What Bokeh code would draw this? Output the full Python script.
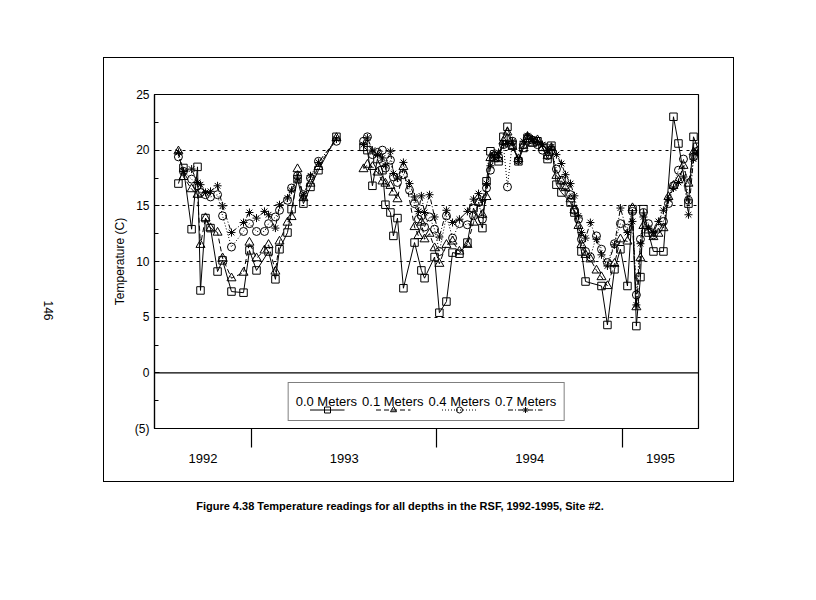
import math
import numpy as np
from bokeh.plotting import figure
from bokeh.models import (Range1d, FixedTicker, Span, Legend, LegendItem,
                          LinearAxis)
from bokeh.embed import file_html
from bokeh.resources import INLINE

# ---------------- data (decimal years, temperature in C) ----------------
dates_a = [1992.606, 1992.633, 1992.677, 1992.709, 1992.725, 1992.752, 1992.779,
           1992.817, 1992.844, 1992.892, 1992.957, 1992.989, 1993.027, 1993.070,
           1993.092, 1993.129, 1993.151, 1993.194, 1993.216, 1993.248, 1993.280,
           1993.318, 1993.361, 1993.458]
t00_a = [17.0, 18.4, 12.9, 18.5, 7.4, 13.9, 13.0, 9.1, 10.1, 7.3, 7.2, 11.0,
         9.2, None, 10.9, 8.4, 11.1, 12.6, 14.7, 17.4, 15.2, 16.7, 18.2, 21.2]
t01_a = [19.9, 17.6, 16.5, 16.0, 11.5, 13.9, 13.0, 12.6, 10.3, 8.5, 9.0, 11.7,
         10.3, 11.0, 11.5, 9.1, 11.8, 13.5, 14.0, 18.3, 15.7, 17.0, 18.5, 21.1]
t04_a = [19.4, 18.1, 17.4, 16.8, 16.2, 16.0, 15.8, 16.0, 14.1, 11.3, 12.7, 13.4,
         12.7, 12.7, 13.4, 14.0, 14.6, 15.5, 16.6, 17.7, 16.0, 17.5, 19.0, 20.8]
t07_a = [19.8, 18.1, 18.3, 17.1, 16.9, 16.2, 16.3, 16.8, 15.0, 12.6, 13.5, 14.4,
         13.9, 14.5, 14.2, 13.0, 15.1, 15.7, 16.4, 17.5, 15.9, 17.7, 18.9, 21.0]

dates_b = [1993.604, 1993.625, 1993.652, 1993.679, 1993.706, 1993.722, 1993.749,
           1993.765, 1993.787, 1993.819, 1993.852, 1993.879, 1993.900, 1993.916,
           1993.933, 1993.960, 1993.987, 1994.013, 1994.051, 1994.084, 1994.121,
           1994.164, 1994.197, 1994.224, 1994.245, 1994.267, 1994.288, 1994.310,
           1994.332, 1994.358, 1994.380, 1994.407, 1994.439, 1994.466, 1994.488,
           1994.515, 1994.542, 1994.569, 1994.596, 1994.617, 1994.644, 1994.671,
           1994.693, 1994.720, 1994.741, 1994.763, 1994.779, 1994.801, 1994.827,
           1994.860, 1994.887, 1994.919, 1994.957, 1994.989, 1995.027, 1995.054,
           1995.075, 1995.097, 1995.113, 1995.140, 1995.167, 1995.194, 1995.221,
           1995.248, 1995.275, 1995.302, 1995.329, 1995.356, 1995.383, 1995.404]
t00_b = [20.3, 20.0, 16.8, 19.2, 18.2, 15.1, 14.4, 12.3, 13.9, 7.6,
         None, 11.7, None, 9.2, 8.5, None, 10.4, 5.4, 6.4, 10.8,
         10.7, 11.7, 14.8, None, 13.0, 17.2, 19.9, 19.3, 19.0, 21.2,
         22.1, 20.5, 19.0, 20.2, 21.1, 20.7, 20.8, 20.3, 19.2, 20.4,
         16.9, 16.2, None, 15.3, 14.4, None, 10.9, 8.2, None, None,
         7.8, 4.3, 9.3, 11.1, 7.8, 14.7, 4.2, 8.6, 14.7, 12.6,
         10.9, None, 10.9, None, 23.0, 20.6, None, 15.2, 21.2, 20.3]
t01_b = [18.3, 18.7, 18.5, 18.0, 17.2, 17.0, 16.8, 16.2, 15.6, 18.5,
         None, 13.1, 12.3, 13.5, 12.0, 12.5, 11.2, 9.8, 11.5, 11.8,
         10.9, 11.5, 13.5, 15.3, 14.2, 15.8, 19.3, 19.6, 19.2, 20.8,
         21.6, 20.3, 19.2, 20.4, 21.2, 20.6, 20.9, 20.2, 19.5, 20.2,
         17.7, 17.2, 16.6, 15.6, 14.6, 13.2, 11.5, 10.6, 10.2, 9.2,
         8.6, 7.8, 9.8, 12.0, 11.8, 14.8, 5.9, 10.3, 13.2, 12.8,
         12.2, 12.5, 13.0, 15.8, 16.8, 17.3, 18.6, 17.0, 19.8, 19.9]
t04_b = [20.8, 21.2, 19.6, 19.8, 20.0, 18.4, 19.1, 17.6, 17.1, 17.8,
         16.4, 15.2, 13.8, 14.1, 13.1, 14.0, 12.9, 10.9, 14.1, 12.1,
         13.4, 13.3, 14.1, 15.3, 13.8, 16.6, 18.2, 19.5, 19.4, 20.5,
         16.7, 20.8, 19.1, 20.5, 21.0, 20.9, 20.5, 20.0, 19.5, 20.0,
         18.3, 17.3, 16.8, 16.0, 14.6, 13.8, 12.0, 10.9, 10.4, 12.3,
         11.1, 9.9, 11.6, 13.4, 13.0, 14.5, 7.0, 12.0, 14.4, 13.4,
         12.4, 13.0, 13.6, 15.2, 16.8, 18.2, 19.2, 15.5, 19.4, 19.9]
t07_b = [20.5, 21.1, 20.0, 19.6, 19.3, 18.6, 19.9, 17.9, 17.5, 18.9,
         17.0, 15.8, 14.5, 15.9, 14.4, 16.0, 14.0, 12.2, 14.6, 13.5,
         13.8, 14.5, 15.6, 16.1, 15.5, 17.0, 18.6, 19.5, 19.8, 20.5,
         20.6, 20.8, 19.0, 20.8, 21.3, 21.0, 20.8, 20.5, 20.0, 20.3,
         19.6, 18.8, 17.8, 17.0, 15.9, 14.1, 12.6, 12.1, 13.5, 12.0,
         10.6, 9.6, 11.5, 14.8, 12.6, 13.6, 6.1, 11.6, 14.0, 13.0,
         12.6, 13.6, 14.6, 15.6, 16.6, 17.1, 17.6, 14.2, 19.2, 19.8]

depth_labels = ["0.0 Meters", "0.1 Meters", "0.4 Meters", "0.7 Meters"]
year_labels = ["1992", "1993", "1994", "1995"]
y_ticks = [-5, 0, 5, 10, 15, 20, 25]
y_minor = [-2.5, 2.5, 7.5, 12.5, 17.5, 22.5]
grid_levels = [5, 10, 15, 20]
caption = "Figure 4.38  Temperature readings for all depths in the RSF, 1992-1995, Site #2."
page_number = "146"

# ---------------- layout constants (canvas pixels) ----------------
W, H = 800, 584
FL, FR, FT, FB = 154, 698, 94, 428          # frame edges
X0, X1 = 1992.477, 1995.410
Y0, Y1 = -5, 25
BOX_L, BOX_R, BOX_T, BOX_B = 103, 733, 57, 481   # outer frame of the figure
CAPTION_CX = 401                                 # caption centre (px)
PAGE_NO_CY = 320                                 # page-number centre (px)
FONT = "Liberation Sans"


def px_to_x(px):
    return X0 + (px - FL) / (FR - FL) * (X1 - X0)


def py_to_y(py):
    return Y1 - (py - FT) / (FB - FT) * (Y1 - Y0)


def build(da, va, db, vb):
    xs, ys = [], []
    for d, v in zip(da, va):
        if v is not None:
            xs.append(d); ys.append(v)
    xs.append(np.nan); ys.append(np.nan)
    for d, v in zip(db, vb):
        if v is not None:
            xs.append(d); ys.append(v)
    return np.array(xs, dtype=float), np.array(ys, dtype=float)


bw, bh = BOX_R - BOX_L, BOX_B - BOX_T
grad = "linear-gradient(#000,#000)"
p = figure(width=W, height=H, output_backend="svg", toolbar_location=None,
           x_range=Range1d(X0, X1), y_range=Range1d(Y0, Y1),
           min_border_left=FL, min_border_right=W - FR,
           min_border_top=FT, min_border_bottom=H - FB,
           styles={
               "background-color": "white",
               "background-image": ", ".join([grad] * 4),
               "background-size": f"{bw + 1}px 1px, {bw + 1}px 1px, 1px {bh}px, 1px {bh}px",
               "background-position": (f"{BOX_L}px {BOX_T}px, {BOX_L}px {BOX_B}px, "
                                       f"{BOX_L}px {BOX_T}px, {BOX_R}px {BOX_T}px"),
               "background-repeat": "no-repeat",
           })
p.background_fill_color = "white"
p.border_fill_color = None
p.outline_line_color = "black"
p.outline_line_width = 1.2

# y axis
ya = p.yaxis[0]
ya.ticker = FixedTicker(ticks=y_ticks, minor_ticks=y_minor)
ya.major_label_overrides = {-5: "(5)"}
ya.major_tick_in = 5
ya.major_tick_out = 0
ya.minor_tick_in = 4
ya.minor_tick_out = 0
ya.major_label_standoff = 5
ya.axis_line_color = "black"
ya.axis_line_width = 1.2
ya.major_label_text_font = FONT
ya.major_label_text_font_size = "12px"
ya.major_label_text_color = "black"
ya.axis_label = "Temperature (C)"
ya.axis_label_text_font = FONT
ya.axis_label_text_font_size = "12px"
ya.axis_label_text_font_style = "normal"
ya.axis_label_text_color = "black"
ya.axis_label_standoff = 5

# x axis: year labels centred on visible part of each year, separators as ticks
centers = []
for lab in year_labels:
    yr = int(lab)
    lo, hi = max(yr, X0), min(yr + 1, X1)
    centers.append(round((lo + hi) / 2, 4))
xa = p.xaxis[0]
xa.ticker = FixedTicker(ticks=centers,
                        minor_ticks=[int(y) for y in year_labels[1:]])
xa.major_label_overrides = {c: lab for c, lab in zip(centers, year_labels)}
xa.major_tick_line_color = None
xa.major_tick_in = 0
xa.major_tick_out = 0
xa.minor_tick_in = 0
xa.minor_tick_out = 19
xa.minor_tick_line_color = "black"
xa.minor_tick_line_width = 1.2
xa.major_label_standoff = 6
xa.axis_line_color = "black"
xa.axis_line_width = 1.2
xa.major_label_text_font = FONT
xa.major_label_text_font_size = "13px"
xa.major_label_text_color = "black"


def text_axis(axis, pos, text, size, style, standoff):
    """A bare axis that only shows one text at one position."""
    axis.ticker = FixedTicker(ticks=[pos])
    axis.major_label_overrides = {pos: text}
    axis.axis_line_color = None
    axis.major_tick_line_color = None
    axis.minor_tick_line_color = None
    axis.major_tick_in = 0
    axis.major_tick_out = 0
    axis.major_label_standoff = standoff
    axis.major_label_text_color = "black"
    axis.major_label_text_font = FONT
    axis.major_label_text_font_size = size
    axis.major_label_text_font_style = style
    return axis


# caption below the outer frame
cap_pos = round(px_to_x(CAPTION_CX), 4)
p.add_layout(text_axis(LinearAxis(), cap_pos, caption, "11px", "bold", 34), "below")

# page number on the far left, rotated
pg_pos = round(py_to_y(PAGE_NO_CY), 4)
pg_axis = text_axis(LinearAxis(), pg_pos, page_number, "12px", "normal", 61)
pg_axis.major_label_orientation = -math.pi / 2
p.add_layout(pg_axis, "left")

p.xgrid.visible = False
p.ygrid.ticker = FixedTicker(ticks=grid_levels)
p.ygrid.grid_line_color = "black"
p.ygrid.grid_line_dash = "3 4"
p.ygrid.grid_line_width = 1

p.add_layout(Span(location=0, dimension="width", line_color="black", line_width=1.2))

styles = [
    ("square", 7.5, "solid"),
    ("triangle", 9, "5 3"),
    ("circle", 8, "1 2"),
    ("asterisk", 8, "5 2 1 2"),
]
series = [(t00_a, t00_b), (t01_a, t01_b), (t04_a, t04_b), (t07_a, t07_b)]

text_items, glyph_items = [], []
for (va, vb), (marker, size, dash), lab in zip(series, styles, depth_labels):
    xs, ys = build(dates_a, va, dates_b, vb)
    lr = p.line(xs, ys, line_color="black", line_width=1, line_dash=dash)
    ok = ~np.isnan(ys)
    sr = p.scatter(xs[ok], ys[ok], marker=marker, size=size, fill_color=None,
                   line_color="black", line_width=1)
    text_items.append(LegendItem(label=lab, renderers=[lr]))
    glyph_items.append(LegendItem(label=" ", renderers=[lr, sr]))

# legend box with the depth names
legend_text = Legend(items=text_items, orientation="horizontal", location="bottom_center",
                     glyph_width=0, glyph_height=23, label_height=23,
                     label_standoff=0, spacing=5, padding=7, margin=7,
                     label_text_font=FONT, label_text_font_size="13px",
                     label_text_baseline="middle", label_text_color="black",
                     border_line_color="black", border_line_width=1.2,
                     background_fill_color="white", background_fill_alpha=1)
p.add_layout(legend_text)
# line/marker samples drawn underneath each name
legend_glyphs = Legend(items=glyph_items, orientation="horizontal", location="bottom_center",
                       glyph_width=35, glyph_height=15, label_height=15, label_width=0,
                       label_standoff=0, spacing=31, padding=0, margin=11,
                       label_text_font=FONT, label_text_font_size="1px",
                       border_line_color=None, background_fill_alpha=0)
p.add_layout(legend_glyphs)

open("out.html", "w").write(file_html(p, INLINE))
